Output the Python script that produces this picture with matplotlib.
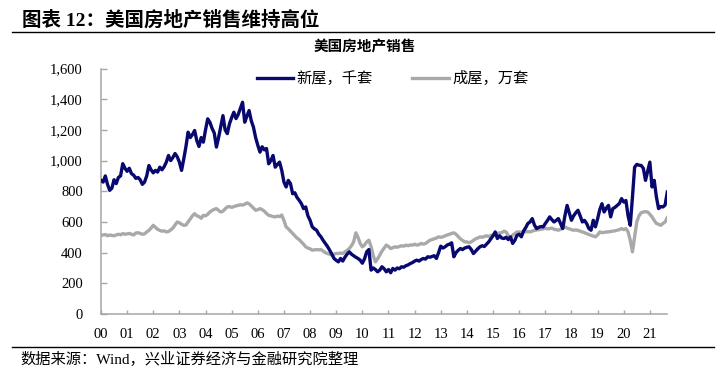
import matplotlib
matplotlib.use("Agg")
import matplotlib.pyplot as plt
from matplotlib.lines import Line2D
from matplotlib.ticker import FuncFormatter

# monthly data, Jan 2000 - Sep 2021
new_homes = [
    871, 860, 900, 845, 806, 820, 875, 850, 890, 900, 980, 950,          # 2000
    930, 950, 915, 905, 884, 890, 875, 845, 860, 900, 968, 940,          # 2001
    920, 936, 925, 957, 940, 960, 990, 1033, 1000, 1020, 1046, 1025,     # 2002
    990, 936, 1010, 1090, 1185, 1150, 1170, 1196, 1130, 1092, 1150, 1120,  # 2003
    1200, 1272, 1250, 1210, 1180, 1088, 1150, 1220, 1293, 1200, 1176, 1240,  # 2004
    1280, 1315, 1274, 1300, 1340, 1380, 1250, 1290, 1326, 1260, 1218, 1150,  # 2005
    1100, 1055, 1090, 1070, 1079, 979, 1000, 1033, 957, 975, 990, 936,   # 2006
    860, 828, 871, 850, 784, 790, 760, 741, 720, 687, 698, 640,          # 2007
    611, 568, 555, 546, 520, 503, 480, 460, 440, 416, 390, 362,          # 2008
    350, 340, 362, 345, 370, 390, 405, 390, 380, 370, 362, 351,          # 2009
    331, 360, 405, 420, 286, 300, 290, 275, 286, 308, 295, 275,          # 2010
    290, 269, 297, 286, 300, 295, 308, 305, 315, 320, 329, 335,          # 2011
    345, 351, 345, 355, 362, 358, 373, 370, 375, 380, 362, 400,          # 2012
    442, 430, 438, 450, 455, 464, 373, 400, 415, 427, 420, 430,          # 2013
    435, 438, 420, 394, 410, 425, 438, 445, 440, 455, 470, 490,          # 2014
    510, 535, 492, 510, 495, 492, 500, 485, 503, 460, 480, 513,          # 2015
    520, 503, 540, 563, 590, 600, 622, 580, 557, 565, 570, 568,          # 2016
    590, 610, 633, 615, 600, 610, 622, 590, 557, 640, 708, 660,          # 2017
    611, 640, 660, 676, 640, 600, 610, 589, 557, 546, 611, 568,          # 2018
    620, 680, 719, 665, 690, 708, 633, 687, 695, 708, 720, 752,          # 2019
    730, 740, 640, 578, 760, 957, 975, 970, 968, 950, 871, 930,          # 2020
    990, 828, 871, 763, 687, 700, 698, 710, 795,                         # 2021
]
existing_homes = [
    513, 515, 518, 510, 515, 512, 510, 515, 520, 516, 524, 520,          # 2000
    522, 525, 520, 515, 528, 530, 525, 520, 522, 535, 545, 560,          # 2001
    578, 565, 552, 545, 540, 542, 535, 538, 548, 560, 580, 600,          # 2002
    595, 585, 578, 580, 600, 620, 640, 654, 640, 635, 624, 643,          # 2003
    640, 650, 665, 675, 682, 687, 675, 665, 670, 685, 698, 700,          # 2004
    695, 700, 705, 708, 712, 710, 715, 724, 718, 705, 690, 676,          # 2005
    680, 687, 680, 670, 655, 643, 640, 635, 633, 638, 635, 645,          # 2006
    610, 568, 555, 540, 524, 510, 495, 485, 470, 455, 438, 430,          # 2007
    425, 416, 418, 420, 418, 420, 410, 400, 394, 390, 384, 390,          # 2008
    395, 394, 398, 394, 405, 415, 427, 445, 470, 529, 500, 460,          # 2009
    438, 450, 470, 481, 440, 380, 340, 360, 384, 410, 430, 449,          # 2010
    440, 427, 432, 438, 435, 440, 445, 442, 449, 445, 450, 449,          # 2011
    455, 449, 452, 460, 455, 460, 470, 481, 485, 490, 495, 503,          # 2012
    500, 503, 510, 515, 520, 525, 529, 520, 505, 490, 480, 470,          # 2013
    470, 465, 470, 480, 490, 495, 503, 500, 505, 510, 505, 513,          # 2014
    513, 520, 525, 529, 530, 540, 535, 510, 492, 515, 524, 535,          # 2015
    535, 530, 540, 535, 538, 535, 540, 545, 548, 550, 552, 555,          # 2016
    560, 555, 557, 560, 552, 550, 546, 552, 560, 568, 560, 555,          # 2017
    550, 546, 548, 545, 540, 535, 530, 524, 518, 513, 508, 503,          # 2018
    515, 535, 530, 532, 535, 535, 538, 540, 542, 546, 550, 557,          # 2019
    550, 557, 535, 481, 405, 503, 600, 640, 660, 665, 667, 665,          # 2020
    650, 633, 610, 590, 585, 578, 590, 600, 628,                         # 2021
]
year_labels = ["%02d" % y for y in range(0, 22)]
y_ticks = [0, 200, 400, 600, 800, 1000, 1200, 1400, 1600]

assert len(new_homes) == len(existing_homes) == 261

cjk = ["Liberation Serif", "Noto Sans CJK SC", "DejaVu Sans"]
plt.rcParams["font.family"] = cjk

fig = plt.figure(figsize=(7.28, 3.74), dpi=100)
ax = fig.add_axes([0.1387, 0.1604, 0.7779, 0.6564])

months = list(range(len(new_homes)))
ax.plot(months, existing_homes, color="#A9A9A9", linewidth=2.4, zorder=2,
        solid_joinstyle="round")
ax.plot(months, new_homes, color="#08086E", linewidth=2.4, zorder=3,
        solid_joinstyle="round")

ax.set_xlim(0, len(new_homes) - 1)
ax.set_ylim(0, 1600)
ax.set_xticks(range(0, 12 * len(year_labels), 12))
ax.set_xticklabels(year_labels)
ax.set_yticks(y_ticks)
ax.yaxis.set_major_formatter(FuncFormatter(lambda v, p: "{:,.0f}".format(v)))

for s in ["top", "right"]:
    ax.spines[s].set_visible(False)
for s in ["left", "bottom"]:
    ax.spines[s].set_color("#A6A6A6")
    ax.spines[s].set_linewidth(1.1)
ax.tick_params(axis="y", direction="in", length=4, width=1, color="#A6A6A6",
               pad=13, labelsize=10.5)
ax.tick_params(axis="x", direction="in", length=3, width=1, color="#A6A6A6",
               pad=10, labelsize=10.5)

# legend
handles = [Line2D([], [], color="#08086E", linewidth=2.4),
           Line2D([], [], color="#A9A9A9", linewidth=2.4)]
fig.legend(handles, ["新屋，千套", "成屋，万套"], loc="center left",
           bbox_to_anchor=(0.3526, 0.789), ncol=2, frameon=False,
           fontsize=11, handlelength=2.4, handletextpad=0.2,
           columnspacing=2.6, borderpad=0, borderaxespad=0)

fig.text(0.030, 0.9465, "图表 12：美国房地产销售维持高位", fontsize=14,
         fontweight="bold", va="center", ha="left")
fig.text(0.5014, 0.874, "美国房地产销售", fontsize=10.5, fontweight="bold",
         va="center", ha="center")
fig.text(0.0275, 0.040, "数据来源：Wind，兴业证券经济与金融研究院整理",
         fontsize=11, va="center", ha="left")

fig.add_artist(Line2D([0.0165, 0.981], [0.9136, 0.9136], color="black",
                      linewidth=1.0, transform=fig.transFigure))
fig.add_artist(Line2D([0.0165, 0.981], [0.0709, 0.0709], color="black",
                      linewidth=1.0, transform=fig.transFigure))

fig.savefig("out.png", dpi=100)
